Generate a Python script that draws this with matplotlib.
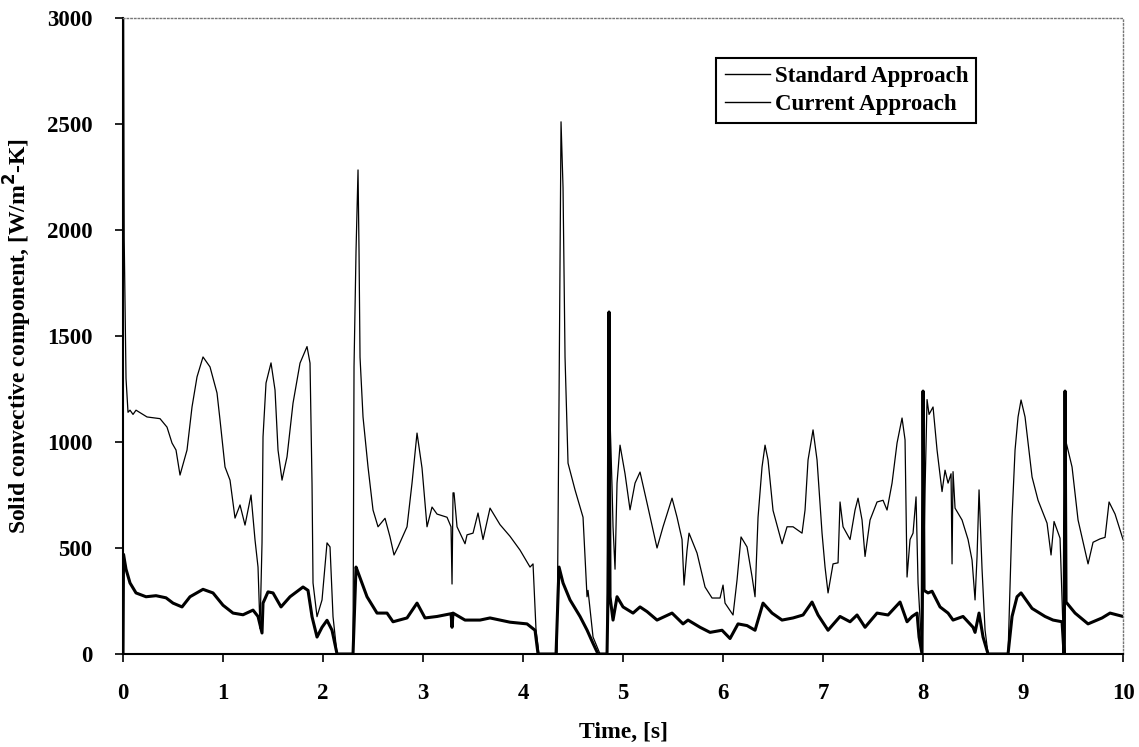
import matplotlib
matplotlib.use("Agg")
import matplotlib.pyplot as plt

# ── Data ─────────────────────────────────────────────────────────────────
std_t = [0.0, 0.005, 0.012, 0.03, 0.05, 0.07, 0.1, 0.13, 0.24, 0.37, 0.44, 0.49, 0.53, 0.57,
         0.64, 0.69, 0.74, 0.80, 0.87, 0.94, 0.97, 1.02, 1.07, 1.12, 1.17, 1.22, 1.28, 1.32,
         1.35, 1.37, 1.39, 1.40, 1.43, 1.48, 1.52, 1.55, 1.59, 1.64, 1.70, 1.77, 1.84, 1.87,
         1.89, 1.90, 1.94, 1.99, 2.04, 2.07, 2.10, 2.14, 2.30, 2.31, 2.33, 2.35, 2.36, 2.37,
         2.40, 2.45, 2.50, 2.55, 2.62, 2.67, 2.71, 2.75, 2.84, 2.89, 2.94, 2.99, 3.04, 3.09,
         3.14, 3.24, 3.28, 3.29, 3.30, 3.31, 3.34, 3.42, 3.44, 3.50, 3.55, 3.60, 3.67, 3.77,
         3.87, 3.97, 4.07, 4.10, 4.13, 4.16, 4.34, 4.36, 4.38, 4.40, 4.42, 4.44, 4.45, 4.52,
         4.60, 4.64, 4.65, 4.70, 4.77, 4.84, 4.85, 4.87, 4.89, 4.90, 4.92, 4.94, 4.97, 5.02,
         5.07, 5.12, 5.17, 5.24, 5.34, 5.40, 5.49, 5.54, 5.59, 5.61, 5.64, 5.66, 5.74, 5.82,
         5.89, 5.97, 6.00, 6.02, 6.10, 6.14, 6.18, 6.24, 6.29, 6.32, 6.35, 6.39, 6.42, 6.45,
         6.50, 6.59, 6.64, 6.70, 6.79, 6.82, 6.85, 6.90, 6.94, 6.99, 7.02, 7.05, 7.10, 7.15,
         7.17, 7.20, 7.27, 7.32, 7.35, 7.39, 7.42, 7.47, 7.54, 7.60, 7.64, 7.69, 7.74, 7.79,
         7.82, 7.84, 7.87, 7.90, 7.93, 7.95, 7.99, 8.02, 8.04, 8.06, 8.10, 8.14, 8.19, 8.22,
         8.25, 8.28, 8.29, 8.30, 8.32, 8.39, 8.45, 8.49, 8.52, 8.54, 8.56, 8.59, 8.62, 8.65,
         8.85, 8.89, 8.92, 8.95, 8.98, 9.02, 9.09, 9.15, 9.24, 9.28, 9.31, 9.37, 9.40, 9.42,
         9.43, 9.45, 9.49, 9.55, 9.65, 9.70, 9.77, 9.82, 9.86, 9.92, 10.0]
std_h = [0, 3000, 1950, 1300, 1140, 1150, 1130, 1150, 1118, 1110, 1070, 995, 962, 844,
         962, 1165, 1307, 1401, 1354, 1231, 1104, 882, 820, 641, 703, 608, 750, 538,
         410, 120, 524, 1024, 1278, 1373, 1245, 962, 820, 930, 1183, 1372, 1450, 1372,
         806, 335, 176, 255, 524, 505, 176, 0, 0, 1355, 1900, 2283, 1900, 1400,
         1118, 882, 679, 600, 640, 552, 467, 505, 600, 806, 1042, 877, 600, 693,
         660, 645, 600, 330, 760, 760, 600, 520, 562, 570, 665, 540, 688, 610,
         555, 490, 410, 425, 113, 0, 0, 1198, 2510, 2200, 1400, 1070, 900, 774,
         645, 270, 300, 80, 0, 0, 806, 1110, 790, 600, 400, 806, 985, 850,
         680, 806, 858, 712, 500, 600, 735, 645, 540, 325, 490, 570, 476, 316,
         264, 264, 325, 240, 184, 349, 552, 505, 365, 270, 645, 882, 985, 915,
         677, 520, 600, 600, 570, 679, 915, 1057, 915, 570, 410, 288, 425, 430,
         717, 600, 540, 679, 735, 632, 460, 632, 717, 725, 679, 806, 995, 1113,
         1010, 363, 540, 570, 741, 335, 0, 774, 1200, 1130, 1165, 962, 766, 867,
         806, 850, 425, 860, 688, 632, 540, 443, 255, 460, 774, 400, 113, 0,
         0, 645, 962, 1118, 1198, 1118, 835, 725, 617, 467, 625, 546, 113, 0,
         1000, 960, 882, 632, 425, 527, 543, 550, 717, 660, 540]

cur_t = [0.0, 0.005, 0.03, 0.07, 0.13, 0.23, 0.33, 0.43, 0.50, 0.59, 0.67, 0.80, 0.90, 1.00,
         1.10, 1.20, 1.30, 1.35, 1.39, 1.40, 1.45, 1.50, 1.58, 1.67, 1.80, 1.85, 1.89, 1.94,
         1.99, 2.04, 2.09, 2.14, 2.30, 2.33, 2.35, 2.44, 2.54, 2.64, 2.70, 2.84, 2.94, 3.02,
         3.14, 3.28, 3.29, 3.30, 3.42, 3.57, 3.67, 3.87, 4.04, 4.12, 4.15, 4.33, 4.36, 4.40,
         4.47, 4.57, 4.64, 4.70, 4.75, 4.84, 4.85, 4.86, 4.87, 4.90, 4.94, 5.00, 5.10, 5.17,
         5.24, 5.34, 5.49, 5.60, 5.65, 5.77, 5.87, 5.99, 6.07, 6.15, 6.24, 6.32, 6.40, 6.49,
         6.59, 6.70, 6.80, 6.89, 6.95, 7.05, 7.17, 7.27, 7.34, 7.42, 7.54, 7.65, 7.77, 7.84,
         7.89, 7.94, 7.96, 7.99, 8.00, 8.01, 8.05, 8.09, 8.17, 8.25, 8.30, 8.40, 8.50, 8.52,
         8.56, 8.60, 8.65, 8.85, 8.89, 8.94, 8.98, 9.09, 9.22, 9.30, 9.39, 9.41, 9.42, 9.43,
         9.52, 9.65, 9.79, 9.87, 10.0]
cur_h = [0, 470, 400, 335, 288, 270, 275, 265, 240, 222, 270, 305, 288, 230,
         193, 185, 207, 177, 99, 240, 293, 288, 222, 270, 316, 300, 176, 80,
         126, 159, 112, 0, 0, 410, 385, 270, 193, 193, 152, 170, 240, 170,
         177, 190, 126, 193, 160, 160, 170, 150, 142, 112, 0, 0, 410, 335,
         255, 177, 113, 50, 0, 0, 288, 1613, 270, 160, 270, 222, 193, 222,
         200, 160, 193, 142, 160, 126, 102, 112, 73, 142, 134, 112, 240, 193,
         160, 170, 184, 245, 184, 112, 177, 152, 184, 126, 193, 184, 245, 152,
         177, 193, 80, 0, 1240, 300, 288, 296, 222, 193, 160, 177, 126, 102,
         193, 80, 0, 0, 177, 270, 288, 215, 177, 160, 152, 0, 1240, 245,
         193, 142, 170, 193, 177]

x_ticks = list(range(0, 11))
y_ticks = [0, 500, 1000, 1500, 2000, 2500, 3000]

# ── Style ────────────────────────────────────────────────────────────────
plt.rcParams.update({
    "font.family": "Liberation Serif",
    "font.weight": "bold",
    "font.size": 16,
})

fig = plt.figure(figsize=(11.39, 7.47), dpi=100)
ax = fig.add_axes([0.108, 0.1245, 0.878, 0.8515])

ax.plot(std_t, std_h, color="black", linewidth=0.9, label="Standard Approach")
ax.plot(cur_t, cur_h, color="black", linewidth=2.2, label="Current Approach")

ax.set_xlim(0, 10)
ax.set_ylim(0, 3000)
ax.set_xticks(x_ticks)
ax.set_yticks(y_ticks)
ax.tick_params(direction="out", length=6, width=1.2, labelsize=16.5)
ax.tick_params(axis="y", pad=16)
ax.tick_params(axis="x", pad=15)

for side in ("left", "bottom"):
    ax.spines[side].set_linewidth(1.5)
for side in ("top", "right"):
    ax.spines[side].set_linestyle(":")
    ax.spines[side].set_color("#777777")
    ax.spines[side].set_linewidth(1.0)

ax.set_xlabel("Time, [s]", fontsize=17, fontweight="bold", labelpad=13)
ax.set_ylabel("Solid convective component, [W/m$^\\mathbf{2}$-K]", fontsize=17,
              fontweight="bold", labelpad=9)

leg = ax.legend(loc="upper left", bbox_to_anchor=(0.582, 0.955), fontsize=16.5,
                handlelength=2.0, handletextpad=0.2, borderpad=0.35,
                labelspacing=0.3, fancybox=False, framealpha=1)
leg.get_frame().set_edgecolor("black")
leg.get_frame().set_linewidth(1.5)
for line in leg.get_lines():
    line.set_linewidth(1.0)

fig.savefig("out.png", dpi=100)
